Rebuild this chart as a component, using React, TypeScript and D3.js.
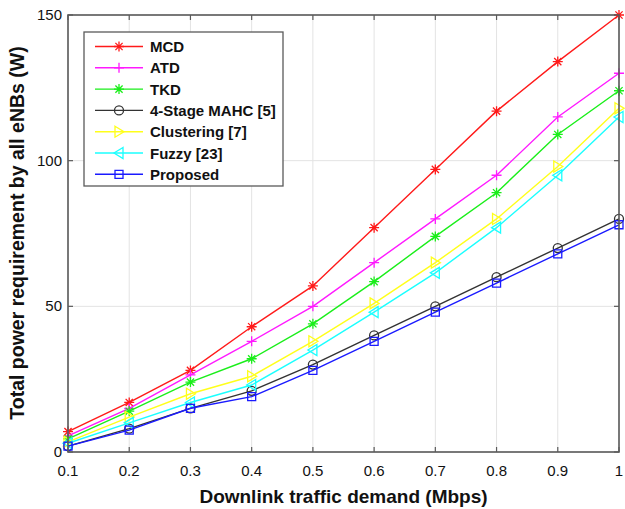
import React from 'react';
import * as d3 from 'd3';

const demand = [0.1, 0.2, 0.3, 0.4, 0.5, 0.6, 0.7, 0.8, 0.9, 1];
const mcd = [7, 17, 28, 43, 57, 77, 97, 117, 134, 150];
const atd = [5.5, 15, 26.5, 38, 50, 65, 80, 95, 115, 130];
const tkd = [4.5, 14, 24, 32, 44, 58.5, 74, 89, 109, 124];
const mahc = [2, 8, 15, 21, 30, 40, 50, 60, 70, 80];
const clustering = [3.5, 12, 20, 26, 38, 51, 65, 80, 98, 118];
const fuzzy = [3, 10, 17, 23, 35, 48, 61.5, 77, 95, 115];
const proposed = [2, 7.5, 15, 19, 28, 38, 48, 58, 68, 78];

const xTicks = [0.1, 0.2, 0.3, 0.4, 0.5, 0.6, 0.7, 0.8, 0.9, 1];
const yTicks = [0, 50, 100, 150];

const series = [
  { name: 'MCD', values: mcd, color: '#ff1a1a', marker: 'asterisk' },
  { name: 'ATD', values: atd, color: '#ff1aff', marker: 'plus' },
  { name: 'TKD', values: tkd, color: '#1aee1a', marker: 'asterisk' },
  { name: '4-Stage MAHC [5]', values: mahc, color: '#333333', marker: 'circle' },
  { name: 'Clustering [7]', values: clustering, color: '#ffff1a', marker: 'triRight' },
  { name: 'Fuzzy [23]', values: fuzzy, color: '#1affff', marker: 'triLeft' },
  { name: 'Proposed', values: proposed, color: '#1a1aff', marker: 'square' },
];

const W = 625;
const H = 509;
const margin = { top: 15, right: 6, bottom: 57, left: 68 };
const font = 'Arial, "Liberation Sans", Helvetica, sans-serif';

function markerPath(type: string, cx: number, cy: number) {
  const r = 5;
  const d = r * 0.72;
  switch (type) {
    case 'asterisk':
      return `M${cx - r},${cy}H${cx + r}M${cx},${cy - r}V${cy + r}M${cx - d},${cy - d}L${cx + d},${cy + d}M${cx - d},${cy + d}L${cx + d},${cy - d}`;
    case 'plus':
      return `M${cx - r},${cy}H${cx + r}M${cx},${cy - r}V${cy + r}`;
    case 'circle':
      return `M${cx - 4.5},${cy}a4.5,4.5 0 1,0 9,0a4.5,4.5 0 1,0 -9,0`;
    case 'triRight':
      return `M${cx - 4},${cy - 5.5}L${cx + 5},${cy}L${cx - 4},${cy + 5.5}Z`;
    case 'triLeft':
      return `M${cx + 4},${cy - 5.5}L${cx - 5},${cy}L${cx + 4},${cy + 5.5}Z`;
    case 'square':
      return `M${cx - 4},${cy - 4}h8v8h-8Z`;
    default:
      return '';
  }
}

export default function App() {
  const innerW = W - margin.left - margin.right;
  const innerH = H - margin.top - margin.bottom;

  const x = d3.scaleLinear().domain([0.1, 1]).range([margin.left, margin.left + innerW]);
  const y = d3.scaleLinear().domain([0, 150]).range([margin.top + innerH, margin.top]);

  const line = d3
    .line<number>()
    .x((_, i) => x(demand[i]))
    .y((v) => y(v));

  const left = margin.left;
  const right = margin.left + innerW;
  const top = margin.top;
  const bottom = margin.top + innerH;
  const tick = 5;
  const frame = '#5a5a5a';

  // legend placement
  const lg = { x: 84, y: 32, w: 199, h: 154, row: 21.3 };

  return (
    <svg
      width={W}
      height={H}
      style={{ position: 'absolute', left: 0, top: 0, background: '#fff' }}
      fontFamily={font}
    >
      <rect width={W} height={H} fill="#fff" />

      {/* grid */}
      <g stroke="#e3e3e3" strokeWidth={1}>
        {xTicks.map((t) => (
          <line key={'gx' + t} x1={x(t)} x2={x(t)} y1={top} y2={bottom} />
        ))}
        {yTicks.map((t) => (
          <line key={'gy' + t} x1={left} x2={right} y1={y(t)} y2={y(t)} />
        ))}
      </g>

      {/* inward ticks on all sides */}
      <g stroke={frame} strokeWidth={1.2}>
        {xTicks.map((t) => (
          <g key={'tx' + t}>
            <line x1={x(t)} x2={x(t)} y1={bottom} y2={bottom - tick} />
            <line x1={x(t)} x2={x(t)} y1={top} y2={top + tick} />
          </g>
        ))}
        {yTicks.map((t) => (
          <g key={'ty' + t}>
            <line x1={left} x2={left + tick} y1={y(t)} y2={y(t)} />
            <line x1={right} x2={right - tick} y1={y(t)} y2={y(t)} />
          </g>
        ))}
      </g>

      {/* series */}
      {series.map((s) => (
        <g key={s.name}>
          <path d={line(s.values) || ''} fill="none" stroke={s.color} strokeWidth={1.4} />
          {s.values.map((v, i) => (
            <path
              key={i}
              d={markerPath(s.marker, x(demand[i]), y(v))}
              fill="none"
              stroke={s.color}
              strokeWidth={1.3}
            />
          ))}
        </g>
      ))}

      {/* frame */}
      <rect x={left} y={top} width={innerW} height={innerH} fill="none" stroke={frame} strokeWidth={1.6} />

      {/* tick labels */}
      <g fontSize={15} fill="#111">
        {xTicks.map((t) => (
          <text key={'lx' + t} x={x(t)} y={bottom + 24} textAnchor="middle">
            {t === 1 ? '1' : t.toFixed(1)}
          </text>
        ))}
        {yTicks.map((t) => (
          <text key={'ly' + t} x={left - 6} y={y(t) + 5} textAnchor="end">
            {t}
          </text>
        ))}
      </g>

      {/* axis titles */}
      <text x={(left + right) / 2} y={503} textAnchor="middle" fontSize={19} fontWeight="bold" fill="#111">
        Downlink traffic demand (Mbps)
      </text>
      <text
        transform="translate(24,233) rotate(-90)"
        textAnchor="middle"
        fontSize={19.5}
        fontWeight="bold"
        fill="#111"
      >
        Total power requirement by all eNBs (W)
      </text>

      {/* legend */}
      <g>
        <rect x={lg.x} y={lg.y} width={lg.w} height={lg.h} fill="#fff" stroke={frame} strokeWidth={1.3} />
        {series.map((s, i) => {
          const cy = lg.y + 14.5 + i * lg.row;
          return (
            <g key={'lg' + s.name}>
              <line x1={lg.x + 11} x2={lg.x + 59} y1={cy} y2={cy} stroke={s.color} strokeWidth={1.4} />
              <path d={markerPath(s.marker, lg.x + 35, cy)} fill="none" stroke={s.color} strokeWidth={1.3} />
              <text x={lg.x + 66} y={cy + 5.5} fontSize={15} fontWeight="bold" fill="#111">
                {s.name}
              </text>
            </g>
          );
        })}
      </g>
    </svg>
  );
}
